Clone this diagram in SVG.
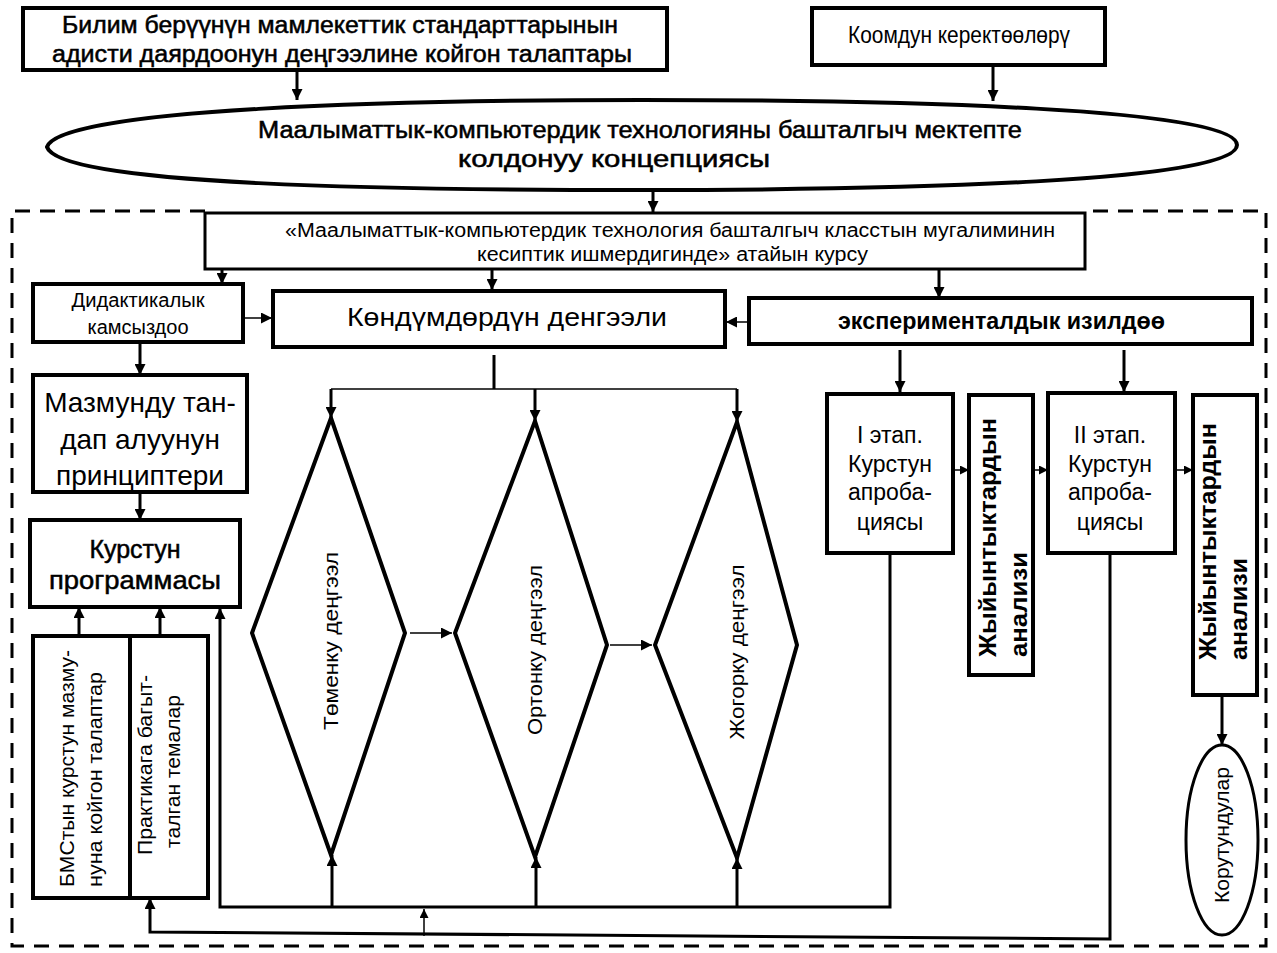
<svg xmlns="http://www.w3.org/2000/svg" width="1277" height="953" viewBox="0 0 1277 953">
<style>
.b{fill:#fff;stroke:#000;stroke-width:4}
.bt{fill:#fff;stroke:#000;stroke-width:3}
.l{fill:none;stroke:#000;stroke-width:3}
.lt{fill:none;stroke:#000;stroke-width:1.5}
text{font-family:"Liberation Sans",Arial,sans-serif;fill:#000}
.h{stroke:#000;stroke-width:0.5}
.dash{fill:none;stroke:#000;stroke-width:3;stroke-dasharray:15 10}
</style>
<defs>
<marker id="a" viewBox="0 0 10 10" refX="10" refY="5" markerWidth="11" markerHeight="11" markerUnits="userSpaceOnUse" orient="auto"><path d="M0,0 L10,5 L0,10 z"/></marker>
<marker id="s" viewBox="0 0 10 10" refX="10" refY="5" markerWidth="9" markerHeight="9" markerUnits="userSpaceOnUse" orient="auto"><path d="M0,0 L10,5 L0,10 z"/></marker>
</defs>
<rect width="1277" height="953" fill="#fff"/>
<g id="frame">
<path class="dash" d="M205,211 H12 V946 H1266 V211 H1085"/>
</g>
<g id="connectors">
<path class="l" d="M297,70 V100" marker-end="url(#a)"/>
<path class="l" d="M993,65 V101" marker-end="url(#a)"/>
<path class="l" d="M653,190 V212" marker-end="url(#a)"/>
<path class="l" d="M222,269 V284" marker-end="url(#a)"/>
<path class="l" d="M492,269 V290" marker-end="url(#a)"/>
<path class="l" d="M939,269 V298" marker-end="url(#a)"/>
<path class="lt" d="M243,318 H272" marker-end="url(#a)"/>
<path class="lt" d="M749,322 H726" marker-end="url(#a)"/>
<path class="l" d="M900,350 V392" marker-end="url(#a)"/>
<path class="l" d="M1124,350 V392" marker-end="url(#a)"/>
<path class="l" d="M140,342 V375" marker-end="url(#a)"/>
<path class="l" d="M140,492 V520" marker-end="url(#a)"/>
<path class="l" d="M79,636 V607" marker-end="url(#a)"/>
<path class="l" d="M160,636 V607" marker-end="url(#a)"/>
<path class="l" d="M494,355 V389"/>
<path class="lt" d="M331,389 H737"/>
<path class="l" d="M331,389 V418" marker-end="url(#a)"/>
<path class="l" d="M535,389 V421" marker-end="url(#a)"/>
<path class="l" d="M737,389 V422" marker-end="url(#a)"/>
<path class="lt" d="M410,633 H452" marker-end="url(#a)"/>
<path class="lt" d="M610,645 H652" marker-end="url(#a)"/>
<path class="l" d="M890,553 V907 H220 V608" marker-end="url(#a)"/>
<path class="l" d="M332,907 V855" marker-end="url(#a)"/>
<path class="l" d="M536,907 V857" marker-end="url(#a)"/>
<path class="l" d="M737,907 V858" marker-end="url(#a)"/>
<path class="l" d="M1110,553 V939 L150,932 V898" marker-end="url(#a)"/>
<path class="lt" d="M424,936 V909" marker-end="url(#s)"/>
<path class="lt" d="M953,470 H969" marker-end="url(#s)"/>
<path class="lt" d="M1033,470 H1048" marker-end="url(#s)"/>
<path class="lt" d="M1175,470 H1193" marker-end="url(#s)"/>
<path class="l" d="M1222,695 V745" marker-end="url(#a)"/>
</g>
<g id="n-standards">
<rect class="b" x="23" y="8" width="644" height="62"/>
<text class="h" x="62" y="33" font-size="23" textLength="556" lengthAdjust="spacingAndGlyphs">Билим берүүнүн мамлекеттик стандарттарынын</text>
<text class="h" x="52" y="62" font-size="23" textLength="580" lengthAdjust="spacingAndGlyphs">адисти даярдоонун деңгээлине койгон талаптары</text>
</g>
<g id="n-society">
<rect class="b" x="812" y="8" width="293" height="57"/>
<text x="848" y="43" font-size="23" textLength="222" lengthAdjust="spacingAndGlyphs">Коомдун керектөөлөрү</text>
</g>
<g id="n-concept">
<path class="b" d="M47,147 C60,108 400,100 642,100 C900,100 1237,108 1237,145 C1237,182 900,190 642,190 C400,190 60,186 47,147 Z"/>
<text class="h" x="258" y="138" font-size="23" textLength="764" lengthAdjust="spacingAndGlyphs">Маалыматтык-компьютердик технологияны  башталгыч мектепте</text>
<text class="h" x="458" y="167" font-size="23" textLength="312" lengthAdjust="spacingAndGlyphs">колдонуу концепциясы</text>
</g>
<g id="n-course">
<rect class="bt" x="205" y="213" width="880" height="56"/>
<text x="285" y="237" font-size="20" textLength="770" lengthAdjust="spacingAndGlyphs">«Маалыматтык-компьютердик технология башталгыч класстын мугалиминин</text>
<text x="477" y="261" font-size="20" textLength="391" lengthAdjust="spacingAndGlyphs">кесиптик ишмердигинде» атайын курсу</text>
</g>
<g id="n-didactic">
<rect class="b" x="33" y="284" width="210" height="58"/>
<text x="138" y="307" font-size="20" text-anchor="middle" textLength="133" lengthAdjust="spacingAndGlyphs">Дидактикалык</text>
<text x="138" y="334" font-size="20" text-anchor="middle">камсыздоо</text>
</g>
<g id="n-skills">
<rect class="b" x="273" y="291" width="452" height="56"/>
<text x="347" y="326" font-size="26" textLength="320" lengthAdjust="spacingAndGlyphs">Көндүмдөрдүн денгээли</text>
</g>
<g id="n-experiment">
<rect class="b" x="749" y="298" width="503" height="46"/>
<text x="838" y="329" font-size="23" font-weight="bold" textLength="327" lengthAdjust="spacingAndGlyphs">эксперименталдык изилдөө</text>
</g>
<g id="n-principles">
<rect class="b" x="33" y="375" width="214" height="117"/>
<text x="140" y="412" font-size="28" text-anchor="middle">Мазмунду тан-</text>
<text x="140" y="449" font-size="28" text-anchor="middle">дап алуунун</text>
<text x="140" y="485" font-size="28" text-anchor="middle">принциптери</text>
</g>
<g id="n-program">
<rect class="b" x="30" y="520" width="210" height="87"/>
<text class="h" x="135" y="558" font-size="25" text-anchor="middle">Курстун</text>
<text class="h" x="135" y="589" font-size="25" text-anchor="middle" textLength="172" lengthAdjust="spacingAndGlyphs">программасы</text>
</g>
<g id="n-reqs">
<rect class="b" x="33" y="636" width="97" height="262"/>
<text transform="translate(74,887) rotate(-90)" font-size="20" textLength="237" lengthAdjust="spacingAndGlyphs">БМСтын курстун мазму-</text>
<text transform="translate(102,887) rotate(-90)" font-size="20" textLength="215" lengthAdjust="spacingAndGlyphs">нуна койгон талаптар</text>
</g>
<g id="n-topics">
<rect class="b" x="130" y="636" width="78" height="262"/>
<text transform="translate(152,855) rotate(-90)" font-size="20" textLength="180" lengthAdjust="spacingAndGlyphs">Практикага багыт-</text>
<text transform="translate(180,848) rotate(-90)" font-size="20" textLength="153" lengthAdjust="spacingAndGlyphs">талган темалар</text>
</g>
<g id="n-low">
<path class="b" d="M331,418 L405,633 L331,855 L252,633 Z"/>
<text transform="translate(338,641) rotate(-90)" font-size="21" text-anchor="middle" textLength="178" lengthAdjust="spacingAndGlyphs">Төменку деңгээл</text>
</g>
<g id="n-mid">
<path class="b" d="M535,421 L607,645 L535,857 L455,633 Z"/>
<text transform="translate(542,650) rotate(-90)" font-size="21" text-anchor="middle" textLength="170" lengthAdjust="spacingAndGlyphs">Ортонку деңгээл</text>
</g>
<g id="n-high">
<path class="b" d="M737,422 L797,645 L737,858 L655,645 Z"/>
<text transform="translate(744,652) rotate(-90)" font-size="21" text-anchor="middle" textLength="175" lengthAdjust="spacingAndGlyphs">Жогорку деңгээл</text>
</g>
<g id="n-stage1">
<rect class="b" x="827" y="394" width="126" height="159"/>
<text x="890" y="443" font-size="23" text-anchor="middle">I этап.</text>
<text x="890" y="472" font-size="23" text-anchor="middle">Курстун</text>
<text x="890" y="500" font-size="23" text-anchor="middle">апроба-</text>
<text x="890" y="530" font-size="23" text-anchor="middle">циясы</text>
</g>
<g id="n-analysis1">
<rect class="b" x="969" y="395" width="64" height="280"/>
<text transform="translate(996,657) rotate(-90)" font-size="24" font-weight="bold" textLength="239" lengthAdjust="spacingAndGlyphs">Жыйынтыктардын</text>
<text transform="translate(1027,657) rotate(-90)" font-size="24" font-weight="bold" textLength="105" lengthAdjust="spacingAndGlyphs">анализи</text>
</g>
<g id="n-stage2">
<rect class="b" x="1048" y="393" width="127" height="160"/>
<text x="1110" y="443" font-size="23" text-anchor="middle">II этап.</text>
<text x="1110" y="472" font-size="23" text-anchor="middle">Курстун</text>
<text x="1110" y="500" font-size="23" text-anchor="middle">апроба-</text>
<text x="1110" y="530" font-size="23" text-anchor="middle">циясы</text>
</g>
<g id="n-analysis2">
<rect class="b" x="1193" y="395" width="64" height="300"/>
<text transform="translate(1216,660) rotate(-90)" font-size="24" font-weight="bold" textLength="237" lengthAdjust="spacingAndGlyphs">Жыйынтыктардын</text>
<text transform="translate(1247,660) rotate(-90)" font-size="24" font-weight="bold" textLength="102" lengthAdjust="spacingAndGlyphs">анализи</text>
</g>
<g id="n-conclusions">
<ellipse class="bt" cx="1222" cy="840" rx="36" ry="95"/>
<text transform="translate(1229,835) rotate(-90)" font-size="21" text-anchor="middle" textLength="136" lengthAdjust="spacingAndGlyphs">Корутундулар</text>
</g>
</svg>
